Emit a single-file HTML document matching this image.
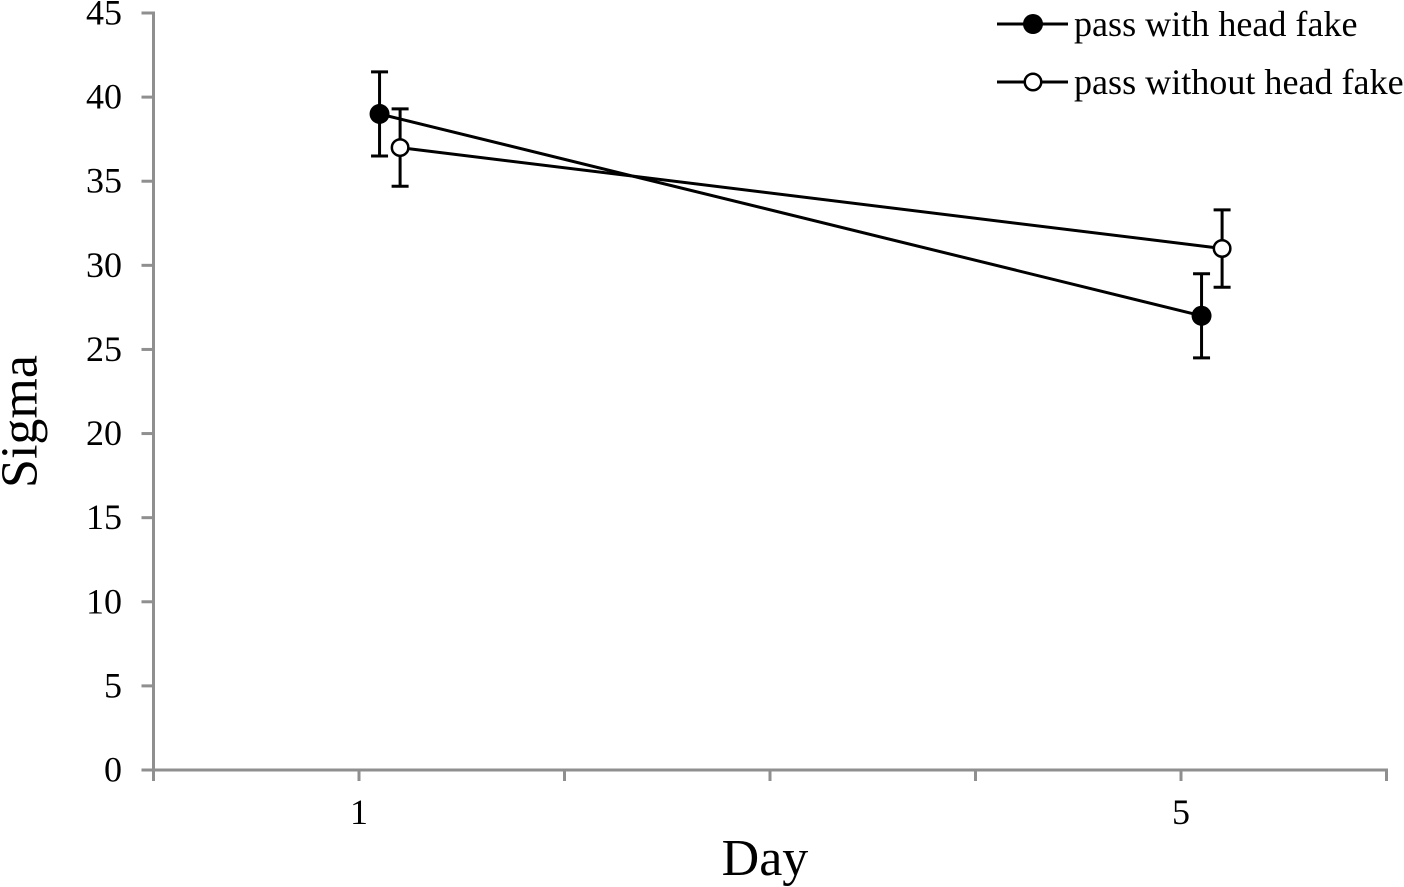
<!DOCTYPE html>
<html lang="en">
<head>
<meta charset="utf-8">
<title>Sigma by Day</title>
<style>
html,body{margin:0;padding:0;background:#fff;width:1404px;height:887px;overflow:hidden}
svg{display:block;font-family:"Liberation Serif",serif;fill:#000}
</style>
</head>
<body>
<svg id="chart" xmlns="http://www.w3.org/2000/svg" width="1404" height="887" viewBox="0 0 1404 887"></svg>
<script>
const days = [1, 5];
const xTickValues = [0, 1, 2, 3, 4, 5, 6];
const xTickLabels = ['', '1', '', '', '', '5', ''];
const yTickValues = [0, 5, 10, 15, 20, 25, 30, 35, 40, 45];
const withFakeMeans = [39, 27];
const withFakeErrors = [2.5, 2.5];
const withoutFakeMeans = [37, 31];
const withoutFakeErrors = [2.3, 2.3];
const withFakeDodge = 0.1;
const withoutFakeDodge = 0.2;

const NS = 'http://www.w3.org/2000/svg';
const svg = document.getElementById('chart');
const xMin = 0, xMax = 6, yMin = 0, yMax = 45;
const plotLeft = 153.5, plotRight = 1386.5, plotBottom = 770, plotTop = 13;
const xScale = v => plotLeft + (v - xMin) / (xMax - xMin) * (plotRight - plotLeft);
const yScale = v => plotBottom - (v - yMin) / (yMax - yMin) * (plotBottom - plotTop);
const AXIS = '#8f8f8f';
const FILLED_R = 10, OPEN_R = 8.25, OPEN_STROKE = 2.5;

function mk(tag, attrs, parent) {
  const el = document.createElementNS(NS, tag);
  for (const k in attrs) el.setAttribute(k, attrs[k]);
  (parent || svg).appendChild(el);
  return el;
}
function group(name) {
  const g = mk('g', {});
  
  
  return g;
}

/* Axes */
const yAxis = group('y-axis');
const yLine = mk('line', {x1: plotLeft, x2: plotLeft, y1: plotTop - 1.5, y2: plotBottom + 11, stroke: AXIS, 'stroke-width': 3}, yAxis);


yTickValues.forEach(v => {
  const t = mk('line', {x1: plotLeft - 12, x2: plotLeft, y1: yScale(v), y2: yScale(v), stroke: AXIS, 'stroke-width': 3}, yAxis);
  
  
  const l = mk('text', {x: 122, y: yScale(v) + 11.5, 'text-anchor': 'end', 'font-size': 36}, yAxis);
  l.textContent = v;
  
  
});

const xAxis = group('x-axis');
const xLine = mk('line', {x1: plotLeft - 11, x2: plotRight + 1.5, y1: plotBottom, y2: plotBottom, stroke: AXIS, 'stroke-width': 3}, xAxis);


xTickValues.forEach((v, i) => {
  const t = mk('line', {x1: xScale(v), x2: xScale(v), y1: plotBottom, y2: plotBottom + 11, stroke: AXIS, 'stroke-width': 3}, xAxis);
  
  
  if (xTickLabels[i]) {
    const l = mk('text', {x: xScale(v), y: 824, 'text-anchor': 'middle', 'font-size': 36}, xAxis);
    l.textContent = xTickLabels[i];
    
    
  }
});

/* Axis titles */
const xTitle = mk('text', {x: 765, y: 875, 'text-anchor': 'middle', 'font-size': 52});
xTitle.textContent = 'Day';


const yTitle = mk('text', {x: 0, y: 0, 'text-anchor': 'middle', 'font-size': 52, transform: 'translate(36.5 421.5) rotate(-90)'});
yTitle.textContent = 'Sigma';



/* Series */
function drawSeries(name, means, errors, dodge, fill) {
  const g = group(name);
  const xs = days.map(d => xScale(d + dodge));
  const pts = means.map((m, i) => xs[i] + ',' + yScale(m)).join(' ');
  const line = mk('polyline', {points: pts, fill: 'none', stroke: '#000', 'stroke-width': 3}, g);
  
  
  means.forEach((m, i) => {
    const x = xs[i], hi = yScale(m + errors[i]), lo = yScale(m - errors[i]);
    const bar = mk('path', {
      d: 'M' + x + ' ' + hi + 'V' + lo + 'M' + (x - 8.5) + ' ' + hi + 'H' + (x + 8.5) + 'M' + (x - 8.5) + ' ' + lo + 'H' + (x + 8.5),
      fill: 'none', stroke: '#000', 'stroke-width': 3
    }, g);
    
    
    const dot = mk('circle', {cx: x, cy: yScale(m), r: fill === '#000' ? FILLED_R : OPEN_R, fill: fill, stroke: '#000', 'stroke-width': fill === '#000' ? 0 : OPEN_STROKE}, g);
    
    
  });
}
drawSeries('pass-with-head-fake', withFakeMeans, withFakeErrors, withFakeDodge, '#000');
drawSeries('pass-without-head-fake', withoutFakeMeans, withoutFakeErrors, withoutFakeDodge, '#fff');

/* Legend */
const legend = group('legend');
function legendEntry(name, label, y, fill) {
  const g = mk('g', {}, legend);
  
  
  mk('line', {x1: 997, x2: 1068, y1: y, y2: y, stroke: '#000', 'stroke-width': 3}, g);
  mk('circle', {cx: 1033, cy: y, r: fill === '#000' ? FILLED_R : OPEN_R, fill: fill, stroke: '#000', 'stroke-width': fill === '#000' ? 0 : OPEN_STROKE}, g);
  const t = mk('text', {x: 1074, y: y + 12, 'font-size': 36.1}, g);
  t.textContent = label;
}
legendEntry('legend-entry-with-head-fake', 'pass with head fake', 24, '#000');
legendEntry('legend-entry-without-head-fake', 'pass without head fake', 82, '#fff');
</script>
</body>
</html>
